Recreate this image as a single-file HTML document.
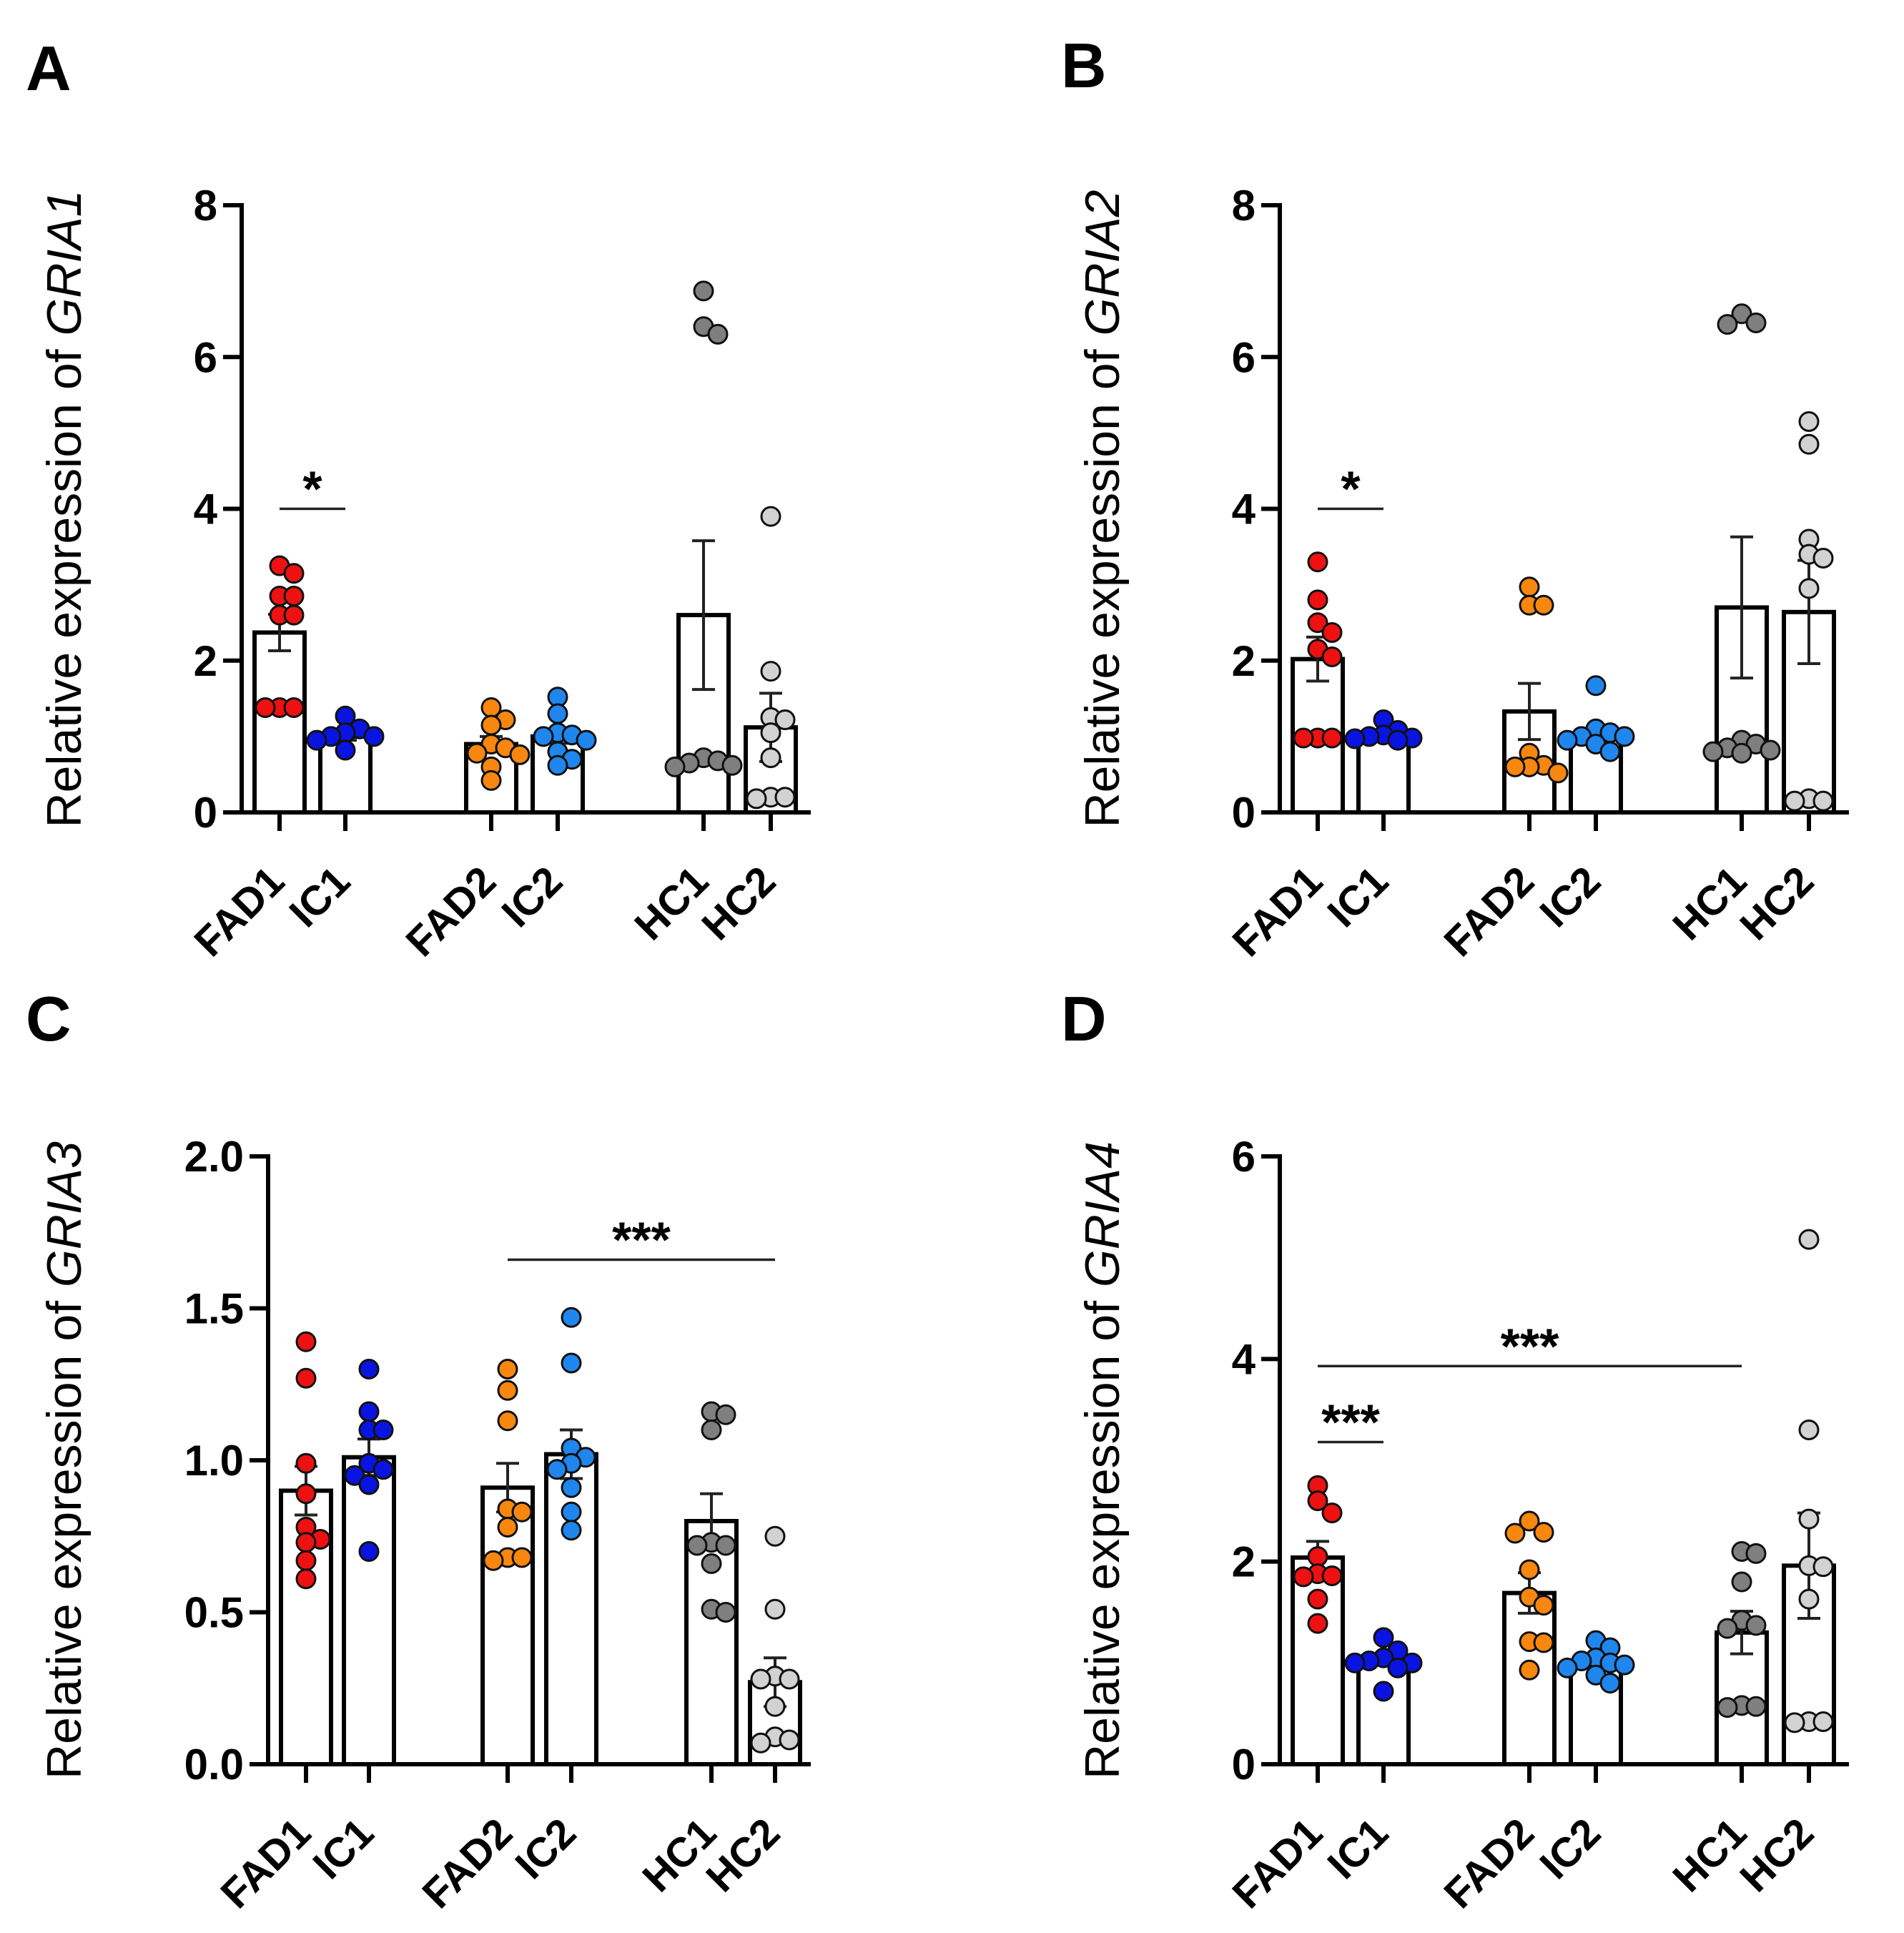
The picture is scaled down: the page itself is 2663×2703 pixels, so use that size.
<!DOCTYPE html>
<html>
<head>
<meta charset="utf-8">
<style>
  html, body { margin: 0; padding: 0; background: #ffffff; }
  svg { display: block; }
  text { font-family: "Liberation Sans", Arial, sans-serif; }
</style>
</head>
<body>
<svg id="fig" width="2663" height="2703" viewBox="0 0 2663 2703" xmlns="http://www.w3.org/2000/svg">
  <rect x="0" y="0" width="2663" height="2703" fill="#ffffff"/>
</svg>
<script>
// ---------- data ----------
const categories = ["FAD1", "IC1", "FAD2", "IC2", "HC1", "HC2"];
const groupColors = ["#ee1111", "#0a14e0", "#f7870f", "#1f86ee", "#7f7f7f", "#d2d2d2"];

// Panel A (GRIA1)
const meansA = [2.37, 1.0, 0.9, 1.0, 2.6, 1.12];
const semA = [0.24, 0.05, 0.1, 0.09, 0.98, 0.45];
const pointsA = [
  [3.25, 3.15, 2.85, 2.85, 2.6, 2.6, 1.38, 1.38, 1.38],
  [1.27, 1.1, 1.05, 1.0, 1.0, 0.95, 0.82],
  [1.38, 1.22, 1.15, 0.9, 0.85, 0.78, 0.76, 0.6, 0.42],
  [1.52, 1.3, 1.05, 1.02, 1.0, 0.95, 0.8, 0.7, 0.62],
  [6.87, 6.4, 6.3, 0.72, 0.68, 0.65, 0.62, 0.6],
  [3.9, 1.86, 1.25, 1.22, 1.05, 0.72, 0.2, 0.2, 0.18]
];
const ticksA = [0, 2, 4, 6, 8];
const tickLabelsA = ["0", "2", "4", "6", "8"];

// Panel B (GRIA2)
const meansB = [2.02, 1.02, 1.33, 1.02, 2.7, 2.64];
const semB = [0.29, 0.04, 0.37, 0.08, 0.93, 0.68];
const pointsB = [
  [3.3, 2.8, 2.5, 2.37, 2.15, 2.05, 0.98, 0.98, 0.98],
  [1.22, 1.08, 1.02, 1.0, 0.98, 0.97, 0.95],
  [2.97, 2.73, 2.73, 0.78, 0.62, 0.6, 0.6, 0.52],
  [1.67, 1.1, 1.05, 1.0, 1.0, 0.95, 0.9, 0.8],
  [6.57, 6.45, 6.43, 0.95, 0.9, 0.85, 0.82, 0.8, 0.78],
  [5.15, 4.85, 3.6, 3.4, 3.35, 2.95, 0.18, 0.15, 0.15]
];
const ticksB = [0, 2, 4, 6, 8];
const tickLabelsB = ["0", "2", "4", "6", "8"];

// Panel C (GRIA3)
const meansC = [0.9, 1.01, 0.91, 1.02, 0.8, 0.27];
const semC = [0.08, 0.06, 0.08, 0.08, 0.09, 0.08];
const pointsC = [
  [1.39, 1.27, 0.99, 0.89, 0.78, 0.74, 0.73, 0.67, 0.61],
  [1.3, 1.16, 1.1, 1.1, 0.99, 0.97, 0.95, 0.92, 0.7],
  [1.3, 1.23, 1.13, 0.84, 0.83, 0.78, 0.68, 0.68, 0.67],
  [1.47, 1.32, 1.04, 1.01, 0.99, 0.97, 0.91, 0.83, 0.77],
  [1.16, 1.15, 1.1, 0.73, 0.72, 0.72, 0.66, 0.51, 0.5],
  [0.75, 0.51, 0.29, 0.28, 0.28, 0.19, 0.09, 0.08, 0.07]
];
const ticksC = [0, 0.5, 1.0, 1.5, 2.0];
const tickLabelsC = ["0.0", "0.5", "1.0", "1.5", "2.0"];

// Panel D (GRIA4)
const meansD = [2.04, 1.03, 1.69, 1.0, 1.3, 1.96];
const semD = [0.16, 0.05, 0.2, 0.04, 0.21, 0.52];
const pointsD = [
  [2.75, 2.6, 2.48, 2.05, 1.88, 1.86, 1.85, 1.63, 1.39],
  [1.25, 1.12, 1.05, 1.02, 1.0, 1.0, 0.95, 0.72],
  [2.4, 2.29, 2.28, 1.92, 1.65, 1.57, 1.21, 1.2, 0.93],
  [1.22, 1.15, 1.05, 1.02, 1.0, 0.98, 0.95, 0.88, 0.8],
  [2.1, 2.08, 1.8, 1.42, 1.37, 1.34, 0.58, 0.57, 0.56],
  [5.18, 3.3, 2.42, 1.96, 1.95, 1.63, 0.42, 0.42, 0.41]
];
const ticksD = [0, 2, 4, 6];
const tickLabelsD = ["0", "2", "4", "6"];

// significance brackets: [fromIndex, toIndex, yValue, label]
const sigA = [[0, 1, 4.0, "*"]];
const sigB = [[0, 1, 4.0, "*"]];
const sigC = [[2, 5, 1.66, "***"]];
const sigD = [[0, 1, 3.18, "***"], [0, 4, 3.93, "***"]];

// ---------- drawing ----------
const NS = "http://www.w3.org/2000/svg";
const svg = document.getElementById("fig");

function mk(tag, attrs, parent) {
  const e = document.createElementNS(NS, tag);
  for (const k in attrs) e.setAttribute(k, attrs[k]);
  (parent || svg).appendChild(e);
  return e;
}

function drawPanel(cfg) {
  const g = mk("g", {});
  
  
  const yScale = v => cfg.y0 - (v - cfg.min) / (cfg.max - cfg.min) * (cfg.y0 - cfg.yTop);
  const xScale = i => cfg.axisX + cfg.offsets[i];

  const letter = mk("text", {x: cfg.letterX, y: cfg.letterY, "font-size": 88, "font-weight": "bold", fill: "#000"}, g);
  letter.textContent = cfg.letter;
  
  

  const midY = (cfg.y0 + cfg.yTop) / 2;
  const title = mk("text", {x: cfg.titleX, y: midY, "font-size": 68, "text-anchor": "middle", fill: "#000",
    transform: `rotate(-90 ${cfg.titleX} ${midY})`}, g);
  
  
  const t1 = mk("tspan", {}, title); t1.textContent = "Relative expression of ";
  const t2 = mk("tspan", {"font-style": "italic"}, title); t2.textContent = cfg.gene;

  for (let i = 0; i < categories.length; i++) {
    const cx = xScale(i), w = 70;
    const yb = yScale(cfg.means[i]);
    const bar = mk("rect", {x: cx - w / 2, y: yb, width: w, height: cfg.y0 - yb, fill: "#fff", stroke: "#000", "stroke-width": 6}, g);
    
    
  }
  for (let i = 0; i < categories.length; i++) {
    const cx = xScale(i);
    const yh = yScale(cfg.means[i] + cfg.sem[i]);
    const yl = yScale(cfg.means[i] - cfg.sem[i]);
    const eg = mk("g", {stroke: "#222", "stroke-width": 4, fill: "none"}, g);
    
    
    mk("line", {x1: cx, x2: cx, y1: yh, y2: yl}, eg);
    mk("line", {x1: cx - 16, x2: cx + 16, y1: yh, y2: yh}, eg);
    mk("line", {x1: cx - 16, x2: cx + 16, y1: yl, y2: yl}, eg);
  }
  const r = 13;
  for (let i = 0; i < categories.length; i++) {
    const cx = xScale(i);
    const placed = [];
    const pts = cfg.points[i];
    for (let j = 0; j < pts.length; j++) {
      const py = yScale(pts[j]);
      const cands = [0, 1, -1, 2, -2];
      let best = cx, bestD = -1;
      for (const c of cands) {
        const tx = cx + c * 20;
        const d = placed.length ? Math.min(...placed.map(p => Math.hypot(p[0] - tx, p[1] - py))) : 1e9;
        if (d >= 1.45 * r) { best = tx; bestD = d; break; }
        if (d > bestD) { bestD = d; best = tx; }
      }
      placed.push([best, py]);
      const dot = mk("circle", {cx: best, cy: py, r: r, fill: groupColors[i], stroke: "#111", "stroke-width": 3}, g);
      
      
    }
  }

  const ax = mk("g", {stroke: "#000", "stroke-width": 6, fill: "none"}, g);
  
  
  mk("line", {x1: cfg.axisX, x2: cfg.axisX, y1: cfg.yTop - 3, y2: cfg.y0 + 3}, ax);
  mk("line", {x1: cfg.axisX, x2: cfg.axisX + cfg.xEnd, y1: cfg.y0, y2: cfg.y0}, ax);
  for (let k = 0; k < cfg.ticks.length; k++) {
    const ty = yScale(cfg.ticks[k]);
    mk("line", {x1: cfg.axisX - 26, x2: cfg.axisX, y1: ty, y2: ty}, ax);
    const lab = mk("text", {x: cfg.axisX - 34, y: ty + 21, "font-size": 60, "font-weight": "bold", "text-anchor": "end", fill: "#000", stroke: "none"}, g);
    lab.textContent = cfg.tickLabels[k];
    
    
  }
  for (let i = 0; i < categories.length; i++) {
    const cx = xScale(i);
    mk("line", {x1: cx, x2: cx, y1: cfg.y0, y2: cfg.y0 + 26}, ax);
    const lx = cx + 10, ly = cfg.y0 + 100;
    const lab = mk("text", {x: lx, y: ly, "font-size": 58, "font-weight": "bold", "text-anchor": "end", fill: "#000",
      transform: `rotate(-45 ${lx} ${ly})`}, g);
    lab.textContent = categories[i];
    
    
  }
  for (const s of cfg.sig) {
    const x1 = xScale(s[0]), x2 = xScale(s[1]), y = yScale(s[2]);
    const sg = mk("g", {}, g);
    
    
    mk("line", {x1: x1, x2: x2, y1: y, y2: y, stroke: "#222", "stroke-width": 3.5}, sg);
    const st = mk("text", {x: (x1 + x2) / 2, y: y - 4, "font-size": 70, "font-weight": "bold", "text-anchor": "middle", fill: "#000"}, sg);
    st.textContent = s[3];
  }
}

const offsetsWide = [53, 145, 349, 442, 646, 740];
const offsetsC = [53, 141, 335, 424, 620, 709];

drawPanel({name: "panel-a", letter: "A", letterX: 36, letterY: 126, gene: "GRIA1", titleX: 113,
  axisX: 338, y0: 1136, yTop: 287, min: 0, max: 8, xEnd: 796, offsets: offsetsWide,
  means: meansA, sem: semA, points: pointsA, ticks: ticksA, tickLabels: tickLabelsA, sig: sigA});
drawPanel({name: "panel-b", letter: "B", letterX: 1484, letterY: 122, gene: "GRIA2", titleX: 1565,
  axisX: 1790, y0: 1136, yTop: 287, min: 0, max: 8, xEnd: 796, offsets: offsetsWide,
  means: meansB, sem: semB, points: pointsB, ticks: ticksB, tickLabels: tickLabelsB, sig: sigB});
drawPanel({name: "panel-c", letter: "C", letterX: 36, letterY: 1455, gene: "GRIA3", titleX: 113,
  axisX: 375, y0: 2467, yTop: 1617, min: 0, max: 2, xEnd: 759, offsets: offsetsC,
  means: meansC, sem: semC, points: pointsC, ticks: ticksC, tickLabels: tickLabelsC, sig: sigC});
drawPanel({name: "panel-d", letter: "D", letterX: 1484, letterY: 1455, gene: "GRIA4", titleX: 1565,
  axisX: 1790, y0: 2467, yTop: 1617, min: 0, max: 6, xEnd: 796, offsets: offsetsWide,
  means: meansD, sem: semD, points: pointsD, ticks: ticksD, tickLabels: tickLabelsD, sig: sigD});
</script>
</body>
</html>
